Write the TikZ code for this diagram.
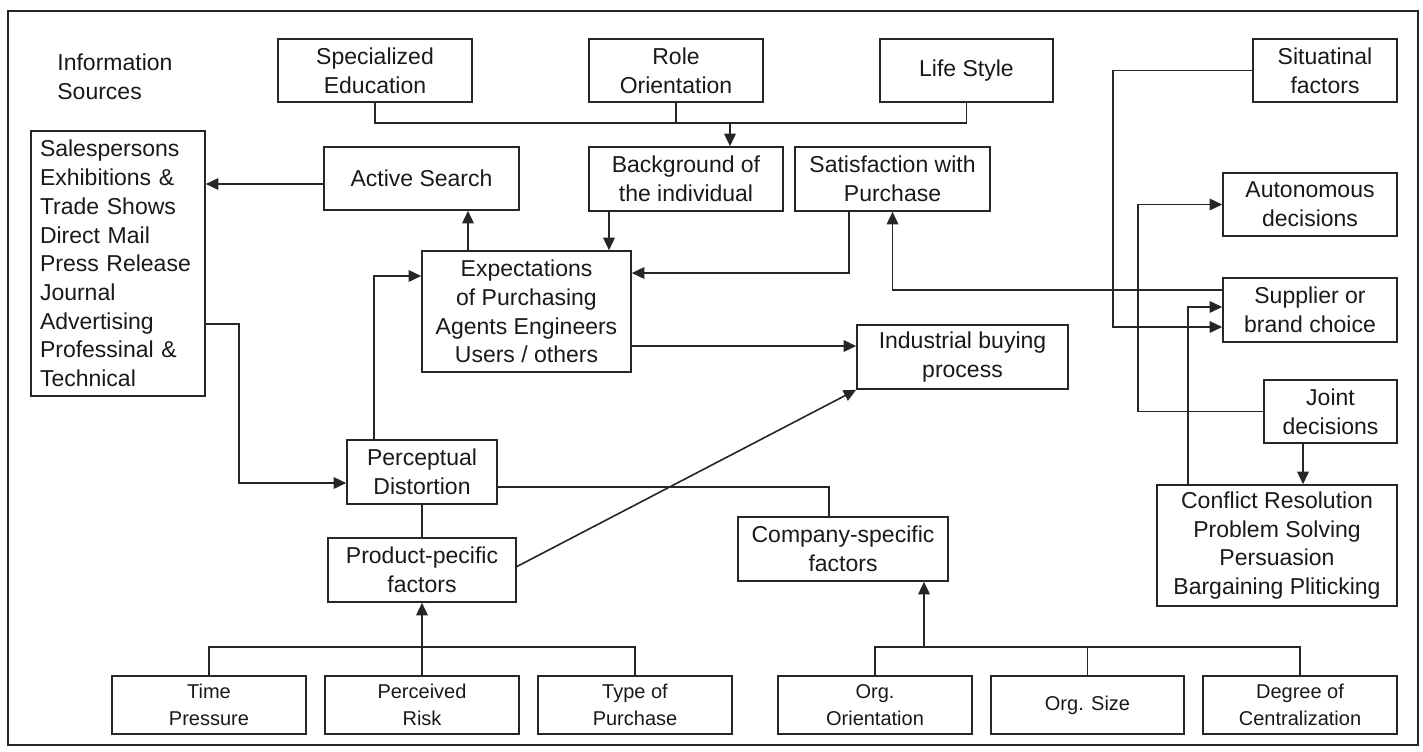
\documentclass[tikz,border=0pt]{standalone}
\usepackage{fontspec}
\setmainfont{Liberation Sans}
\usetikzlibrary{arrows.meta}
\begin{document}
\begin{tikzpicture}[x=0.5pt,y=-0.5pt,
  ln/.style={line width=0.8pt, draw=black!85},
  arr/.style={ln, -{Triangle[length=6.25pt,width=5.75pt]}},
  bx/.style={draw=black!85, line width=0.8pt, align=center, inner sep=0pt, text=black!90, font=\fontsize{11.5}{14.35}\selectfont},
  sb/.style={bx, font=\fontsize{10}{13.3}\selectfont, minimum width=97pt, minimum height=29pt},
  lbl/.style={anchor=west, align=left, inner sep=0pt, text=black!90, font=\fontsize{11.5}{14.35}\selectfont}
]
\useasboundingbox (0,0) rectangle (1423,751);
\draw[ln] (8,11) rectangle (1418,745);

\node[lbl] (title) at (57,76.5) {Information\\Sources};

\node[bx, minimum width=97pt, minimum height=31.5pt] (spec) at (375,70.5) {Specialized\\Education};
\node[bx, minimum width=87pt, minimum height=31.5pt] (role) at (676,70.5) {Role\\Orientation};
\node[bx, minimum width=86.5pt, minimum height=31.5pt] (life) at (966.5,70.5) {Life Style};
\node[bx, minimum width=72pt, minimum height=31.5pt] (sit) at (1325,70.5) {Situatinal\\factors};
\node[bx, minimum width=97.5pt, minimum height=31.5pt] (active) at (421.5,178.5) {Active Search};
\node[bx, minimum width=97pt, minimum height=32pt] (back) at (686,179) {Background of\\the individual};
\node[bx, minimum width=97.5pt, minimum height=32pt] (sat) at (892.5,179) {Satisfaction with\\Purchase};
\node[bx, minimum width=87pt, minimum height=31.5pt] (auto) at (1310,204.5) {Autonomous\\decisions};
\node[bx, text width=78pt, inner xsep=4.5pt, align=left, minimum height=132.5pt] (info) at (118,263.5) {Salespersons\\Exhibitions \&\\Trade Shows\\Direct Mail\\Press Release\\Journal\\Advertising\\Professinal \&\\Technical};
\node[bx, minimum width=104.5pt, minimum height=60.5pt] (expect) at (526.5,311.5) {Expectations\\of Purchasing\\Agents Engineers\\Users / others};
\node[bx, minimum width=105.5pt, minimum height=32pt] (indus) at (962.5,357) {Industrial buying\\process};
\node[bx, minimum width=87pt, minimum height=32pt] (supp) at (1310,310) {Supplier or\\brand choice};
\node[bx, minimum width=66.5pt, minimum height=31.5pt] (joint) at (1330.5,411.5) {Joint\\decisions};
\node[bx, minimum width=75pt, minimum height=32pt] (percep) at (422,472) {Perceptual\\Distortion};
\node[bx, minimum width=94pt, minimum height=32pt] (prod) at (422,570) {Product-pecific\\factors};
\node[bx, minimum width=105pt, minimum height=32pt] (comp) at (843,549) {Company-specific\\factors};
\node[bx, minimum width=120pt, minimum height=60.5pt] (conf) at (1277,545.5) {Conflict Resolution\\Problem Solving\\Persuasion\\Bargaining Pliticking};

\node[sb] (time) at (209,705) {Time\\Pressure};
\node[sb] (risk) at (422,705) {Perceived\\Risk};
\node[sb] (type) at (635,705) {Type of\\Purchase};
\node[sb] (orgo) at (875,705) {Org.\\Orientation};
\node[sb, minimum width=96.5pt] (orgs) at (1087.5,705) {Org. Size};
\node[sb] (deg) at (1300,705) {Degree of\\Centralization};

% helper coordinates
\coordinate (bj) at (730,123);
\coordinate (a1) at (324,184);
\coordinate (e1) at (468,251);
\coordinate (b1) at (609,211);
\coordinate (s1) at (849,211);
\coordinate (s2) at (849,273);
\coordinate (p1) at (1223,290);
\coordinate (q1) at (1113,327);
\coordinate (j1) at (1138,412);
\coordinate (j2) at (1303,443);
\coordinate (c1) at (1188,485);
\coordinate (c2) at (1188,307);
\coordinate (e2) at (631,346);
\coordinate (i1) at (205,324);
\coordinate (i2) at (239,483);
\coordinate (pd1) at (374,440);
\coordinate (pd2) at (374,276);
\coordinate (pd3) at (497,487);
\coordinate (cp1) at (829,517);
\coordinate (pr1) at (516,567);
\coordinate (tb) at (422,647);
\coordinate (ob) at (924,647);

% top bracket
\draw[ln] (spec.south) |- (bj) -| (life.south);
\draw[ln] (role.south) -- (role.south |- bj);
\draw[arr] (bj) -- (bj |- back.north);

\draw[arr] (a1) -- (a1 -| info.east);
\draw[arr] (e1) -- (e1 |- active.south);
\draw[arr] (b1) -- (b1 |- expect.north);
\draw[arr] (s1) -- (s2) -- (s2 -| expect.east);
\draw[arr] (p1) -| (sat.south);
\draw[arr] (sit.west) -| (q1) -- (q1 -| supp.west);
\draw[arr] (joint.west) -| (j1 |- auto.west) -- (auto.west);
\draw[arr] (j2) -- (j2 |- conf.north);
\draw[arr] (c1) -- (c2) -- (c2 -| supp.west);
\draw[arr] (e2) -- (e2 -| indus.west);
\draw[arr] (i1) -| (i2) -- (i2 -| percep.west);
\draw[arr] (pd1) -- (pd2) -- (pd2 -| expect.west);
\draw[ln] (pd3) -| (cp1);
\draw[ln] (percep.south) -- (prod.north);
\draw[arr] (pr1) -- (indus.south west);

% bottom brackets
\draw[ln] (time.north) |- (tb) -| (type.north);
\draw[arr] (risk.north) -- (prod.south);
\draw[ln] (orgo.north) |- (ob) -| (deg.north);
\draw[ln] (orgs.north) -- (orgs.north |- ob);
\draw[arr] (ob) -- (ob |- comp.south);
\end{tikzpicture}
\end{document}
